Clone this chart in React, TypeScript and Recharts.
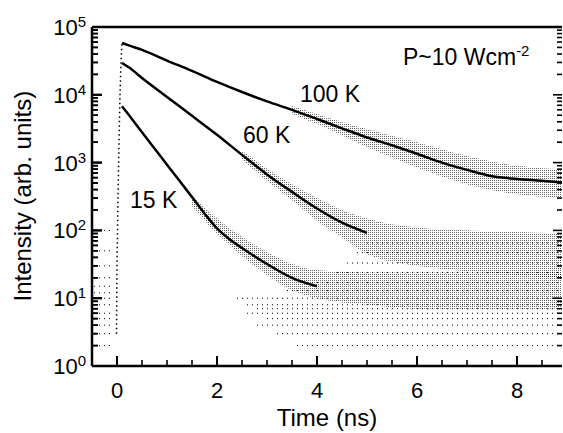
import React from 'react';
import { ComposedChart, Line, Area, XAxis, YAxis, ReferenceDot } from 'recharts';

// 100 K decay (core of the dot cloud)
const T_100 = [0.1, 0.25, 0.5, 1, 1.5, 2, 2.5, 3, 3.5, 4, 4.5, 5, 5.5, 6, 6.5, 7, 7.5, 8, 8.5, 8.9];
const I_100 = [58000, 53000, 46000, 32000, 22500, 15500, 11000, 8000, 6000, 4400, 3200, 2350, 1800, 1350, 1000, 780, 630, 575, 540, 510];

// 60 K decay
const T_60 = [0.1, 0.25, 0.5, 1, 1.5, 2, 2.5, 3, 3.5, 4, 4.5, 5];
const I_60 = [29500, 25000, 17700, 9300, 4900, 2570, 1300, 670, 370, 210, 130, 92];

// 15 K decay
const T_15 = [0.1, 0.25, 0.5, 0.75, 1, 1.25, 1.5, 1.75, 2, 2.25, 2.5, 3, 3.5, 4];
const I_15 = [6800, 4900, 2800, 1620, 930, 540, 310, 178, 107, 74, 55, 32, 20, 15];

// scatter spread of the noisy tails (low / high edge)
const B100_T = [3.5, 4, 5, 6, 7, 8, 8.9];
const B100_LO = [5200, 3700, 1700, 850, 480, 340, 300];
const B100_HI = [6900, 5200, 3100, 2000, 1250, 900, 800];

const B60_T = [2.5, 3, 3.5, 4, 4.5, 5, 6, 7, 8, 8.9];
const B60_LO = [1100, 540, 280, 140, 80, 45, 30, 25, 22, 20];
const B60_HI = [1500, 820, 480, 300, 200, 150, 110, 100, 95, 90];

const B15_T = [1.5, 2, 2.5, 3, 3.5, 4, 5, 6, 7, 8, 8.9];
const B15_LO = [230, 90, 42, 22, 13, 10, 8, 7, 7, 7, 7];
const B15_HI = [320, 150, 80, 48, 32, 26, 24, 24, 24, 24, 24];

// rising edge of the pulse
const RISE_T = [-0.01, 0, 0.02, 0.04, 0.06, 0.08, 0.1];
const RISE_I = [3, 30, 300, 2000, 10000, 30000, 58000];

// discrete count levels of the background (after the decay and before t=0)
const FLOOR_LEVELS = [2, 3, 4, 5, 6, 7, 8, 10, 13, 17, 24, 33, 47, 65];
const FLOOR_FROM = [3.6, 3.2, 2.8, 3.0, 2.6, 2.8, 2.6, 2.4, 3.4, 3.8, 4.4, 4.6, 4.8, 5.0];
const PRE_LEVELS = [2, 3, 4, 5, 6, 8, 10, 12, 15, 20, 30, 50, 100];

const X_MAJOR = [0, 2, 4, 6, 8];
const X_MINOR = [0.5, 1, 1.5, 2.5, 3, 3.5, 4.5, 5, 5.5, 6.5, 7, 7.5, 8.5];
const Y_MAJOR = [1, 10, 100, 1000, 10000, 100000];
const Y_MINOR = [1, 10, 100, 1000, 10000].flatMap((d) => [2, 3, 4, 5, 6, 7, 8, 9].map((m) => m * d));

const X_START = -0.5;
const X_END = 8.9;
const Y_DOMAIN = [1, 100000];
const FONT = '"Liberation Sans", Arial, Helvetica, sans-serif';

// layout
const W = 563;
const H = 433;
const TOP = 26;
const Y_AXIS_W = 92;
const X_AXIS_H = 67;
const PLOT_W = W - Y_AXIS_W - 1;
const PLOT_H = H - TOP - 1 - X_AXIS_H;

const pts = (ts: number[], vs: number[]) => ts.map((t, i) => ({ t, v: vs[i] }));
const band = (ts: number[], lo: number[], hi: number[]) => ts.map((t, i) => ({ t, r: [lo[i], hi[i]] }));

const curve100 = pts(T_100, I_100);
const curve60 = pts(T_60, I_60);
const curve15 = pts(T_15, I_15);
const rise = pts(RISE_T, RISE_I);
const floors = FLOOR_LEVELS.map((lv, i) => [{ t: FLOOR_FROM[i], v: lv }, { t: X_END, v: lv }]);
const pre = PRE_LEVELS.map((lv) => [{ t: -0.46, v: lv }, { t: -0.06, v: lv }]);

const ALL_Y = [...Y_MAJOR, ...Y_MINOR].sort((a, b) => a - b);
const ALL_X = [...X_MAJOR, ...X_MINOR].sort((a, b) => a - b);

const YTick = (props: any) => {
  const { x, y, payload } = props;
  const major = Y_MAJOR.includes(payload.value);
  const exp = Math.round(Math.log10(payload.value));
  return (
    <g>
      <line x1={x} y1={y} x2={x + (major ? 10 : 6)} y2={y} stroke='#000' strokeWidth={major ? 2 : 1.6} />
      {major && (
        <text x={x - 6} y={y} dy='0.36em' textAnchor='end' fontFamily={FONT} fontSize={22} fill='#000'>
          10<tspan dy={-8} fontSize={15}>{exp}</tspan>
        </text>
      )}
    </g>
  );
};

const XTick = (props: any) => {
  const { x, y, payload } = props;
  const major = X_MAJOR.includes(payload.value);
  return (
    <g>
      <line x1={x} y1={y} x2={x} y2={y - (major ? 10 : 6)} stroke='#000' strokeWidth={major ? 2 : 1.6} />
      {major && (
        <text x={x} y={y + 32} textAnchor='middle' fontFamily={FONT} fontSize={22} fill='#000'>
          {payload.value}
        </text>
      )}
    </g>
  );
};

// right frame ticks; the matching inward ticks of the left frame are drawn from here too
const RightTick = (props: any) => {
  const { x, y, payload } = props;
  const major = Y_MAJOR.includes(payload.value);
  const left = x - PLOT_W;
  return (
    <g>
      <line x1={x} y1={y} x2={x - (major ? 9 : 5)} y2={y} stroke='#000' strokeWidth={1.6} />
      <line x1={left} y1={y} x2={left + (major ? 10 : 6)} y2={y} stroke='#000' strokeWidth={major ? 2 : 1.6} />
    </g>
  );
};

// top frame axis carries the inward ticks of the bottom frame
const TopTick = (props: any) => {
  const { x, y, payload } = props;
  const major = X_MAJOR.includes(payload.value);
  const bottom = y + PLOT_H;
  return (
    <g>
      <line x1={x} y1={bottom} x2={x} y2={bottom - (major ? 10 : 6)} stroke='#000' strokeWidth={major ? 2 : 1.6} />
    </g>
  );
};

const note = (text: React.ReactNode) => (p: any) => (
  <text x={p.cx} y={p.cy} fontFamily={FONT} fontSize={23} fill='#000'>
    {text}
  </text>
);

const title = (text: string, rotate: boolean) => (p: any) => (
  <text
    x={p.cx}
    y={p.cy}
    transform={rotate ? `rotate(-90 ${p.cx} ${p.cy})` : undefined}
    textAnchor='middle'
    fontFamily={FONT}
    fontSize={24}
    fill='#000'
  >
    {text}
  </text>
);

export default function App() {
  const common = { xAxisId: 'x', yAxisId: 'y', isAnimationActive: false, dot: false };
  const ref = { xAxisId: 'x', yAxisId: 'y', r: 0, ifOverflow: 'visible' as const };
  return (
    <div style={{ position: 'absolute', left: 0, top: 0, width: W, height: H, background: '#fff' }}>
      <ComposedChart width={W} height={H} margin={{ top: TOP, right: 0, bottom: 0, left: 0 }}>
        <defs>
          <pattern id='stipple' width='2' height='2' patternUnits='userSpaceOnUse'>
            <rect x='0' y='0' width='1' height='1' fill='#000' />
          </pattern>
        </defs>
        <XAxis
          xAxisId='x'
          type='number'
          dataKey='t'
          domain={[X_START, X_END]}
          allowDataOverflow
          ticks={ALL_X}
          interval={0}
          height={X_AXIS_H}
          tickSize={0}
          tickMargin={0}
          tickLine={false}
          tick={XTick}
          axisLine={{ stroke: '#000', strokeWidth: 2.5 }}
        />
        <XAxis
          xAxisId='top'
          orientation='top'
          type='number'
          domain={[X_START, X_END]}
          allowDataOverflow
          ticks={ALL_X}
          interval={0}
          height={1}
          tickSize={0}
          tickMargin={0}
          tickLine={false}
          tick={TopTick}
          axisLine={{ stroke: '#000', strokeWidth: 2.5 }}
        />
        <YAxis
          yAxisId='y'
          scale='log'
          domain={Y_DOMAIN}
          allowDataOverflow
          ticks={ALL_Y}
          interval={0}
          width={Y_AXIS_W}
          tickSize={0}
          tickMargin={0}
          tickLine={false}
          tick={YTick}
          axisLine={{ stroke: '#000', strokeWidth: 2.5 }}
        />
        <YAxis
          yAxisId='yr'
          orientation='right'
          scale='log'
          domain={Y_DOMAIN}
          allowDataOverflow
          ticks={ALL_Y}
          interval={0}
          width={1}
          tickSize={0}
          tickMargin={0}
          tickLine={false}
          tick={RightTick}
          axisLine={false}
        />

        <Area {...common} data={band(B100_T, B100_LO, B100_HI)} dataKey='r' type='monotone' stroke='none' fill='url(#stipple)' />
        <Area {...common} data={band(B60_T, B60_LO, B60_HI)} dataKey='r' type='monotone' stroke='none' fill='url(#stipple)' />
        <Area {...common} data={band(B15_T, B15_LO, B15_HI)} dataKey='r' type='monotone' stroke='none' fill='url(#stipple)' />

        {floors.map((d, i) => (
          <Line key={`f${i}`} {...common} data={d} dataKey='v' stroke='#000' strokeWidth={1} strokeDasharray='1 4' />
        ))}
        {pre.map((d, i) => (
          <Line key={`p${i}`} {...common} data={d} dataKey='v' stroke='#000' strokeWidth={1} strokeDasharray='1 4' />
        ))}

        <Line {...common} data={rise} dataKey='v' type='linear' stroke='#000' strokeWidth={1.5} strokeDasharray='1.5 3' />
        <Line {...common} data={curve100} dataKey='v' type='monotone' stroke='#000' strokeWidth={2.5} />
        <Line {...common} data={curve60} dataKey='v' type='monotone' stroke='#000' strokeWidth={2.5} />
        <Line {...common} data={curve15} dataKey='v' type='monotone' stroke='#000' strokeWidth={2.5} />

        <ReferenceDot {...ref} x={5.72} y={27500} shape={note(<>P~10 Wcm<tspan dy={-9} fontSize={15}>-2</tspan></>)} />
        <ReferenceDot {...ref} x={3.66} y={7830} shape={note('100 K')} />
        <ReferenceDot {...ref} x={2.52} y={1945} shape={note('60 K')} />
        <ReferenceDot {...ref} x={0.26} y={214} shape={note('15 K')} />
        <ReferenceDot {...ref} x={4.2} y={0.13} shape={title('Time (ns)', false)} />
        <ReferenceDot {...ref} x={-1.72} y={320} shape={title('Intensity (arb. units)', true)} />
      </ComposedChart>
    </div>
  );
}
